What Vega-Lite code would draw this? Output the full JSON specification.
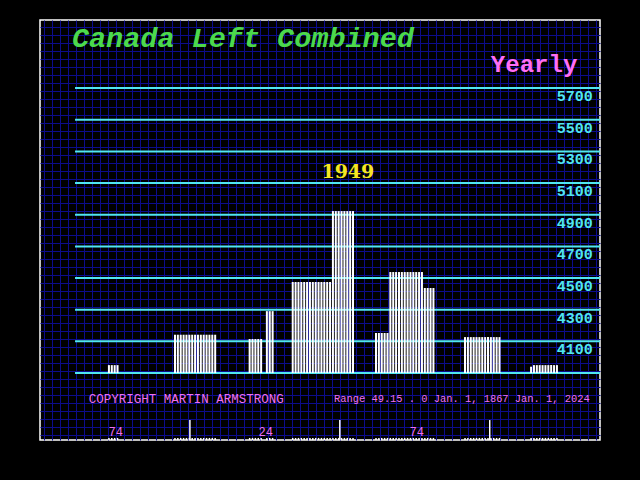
{
  "$schema": "https://vega.github.io/schema/vega-lite/v6.json",
  "width": 560,
  "height": 420,
  "autosize": "none",
  "padding": {"left": 40, "top": 20, "right": 40, "bottom": 40},
  "background": "#000000",
  "config": {"view": {"stroke": "#ffffff", "strokeWidth": 1.5, "fill": "#000000"}, "scale": {"continuousPadding": 0}},
  "datasets": {
    "bars": [
      {"year": 1867, "value": 3950}, {"year": 1868, "value": 3950}, {"year": 1869, "value": 3950}, {"year": 1870, "value": 3950},
      {"year": 1890, "value": 4142}, {"year": 1891, "value": 4142}, {"year": 1892, "value": 4142}, {"year": 1893, "value": 4142}, {"year": 1894, "value": 4142},
      {"year": 1895, "value": 4142}, {"year": 1896, "value": 4142}, {"year": 1897, "value": 4142}, {"year": 1898, "value": 4142}, {"year": 1899, "value": 4142},
      {"year": 1900, "value": 4142}, {"year": 1901, "value": 4142}, {"year": 1902, "value": 4142}, {"year": 1903, "value": 4142}, {"year": 1904, "value": 4142},
      {"year": 1916, "value": 4115}, {"year": 1917, "value": 4115}, {"year": 1918, "value": 4115}, {"year": 1919, "value": 4115}, {"year": 1920, "value": 4115},
      {"year": 1922, "value": 4291}, {"year": 1923, "value": 4291}, {"year": 1924, "value": 4291},
      {"year": 1931, "value": 4475}, {"year": 1932, "value": 4475}, {"year": 1933, "value": 4475}, {"year": 1934, "value": 4475}, {"year": 1935, "value": 4475},
      {"year": 1936, "value": 4475}, {"year": 1937, "value": 4475}, {"year": 1938, "value": 4475}, {"year": 1939, "value": 4475}, {"year": 1940, "value": 4475},
      {"year": 1941, "value": 4475}, {"year": 1942, "value": 4475}, {"year": 1943, "value": 4475}, {"year": 1944, "value": 4475},
      {"year": 1945, "value": 4923}, {"year": 1946, "value": 4923}, {"year": 1947, "value": 4923}, {"year": 1948, "value": 4923},
      {"year": 1949, "value": 4923}, {"year": 1950, "value": 4923}, {"year": 1951, "value": 4923}, {"year": 1952, "value": 4923},
      {"year": 1960, "value": 4153}, {"year": 1961, "value": 4153}, {"year": 1962, "value": 4153}, {"year": 1963, "value": 4153}, {"year": 1964, "value": 4153},
      {"year": 1965, "value": 4538}, {"year": 1966, "value": 4538}, {"year": 1967, "value": 4538}, {"year": 1968, "value": 4538}, {"year": 1969, "value": 4538}, {"year": 1970, "value": 4538},
      {"year": 1971, "value": 4538}, {"year": 1972, "value": 4538}, {"year": 1973, "value": 4538}, {"year": 1974, "value": 4538}, {"year": 1975, "value": 4538}, {"year": 1976, "value": 4538},
      {"year": 1977, "value": 4437}, {"year": 1978, "value": 4437}, {"year": 1979, "value": 4437}, {"year": 1980, "value": 4437},
      {"year": 1991, "value": 4127}, {"year": 1992, "value": 4127}, {"year": 1993, "value": 4127}, {"year": 1994, "value": 4127}, {"year": 1995, "value": 4127},
      {"year": 1996, "value": 4127}, {"year": 1997, "value": 4127}, {"year": 1998, "value": 4127}, {"year": 1999, "value": 4127}, {"year": 2000, "value": 4127},
      {"year": 2001, "value": 4127}, {"year": 2002, "value": 4127}, {"year": 2003, "value": 4127},
      {"year": 2014, "value": 3940}, {"year": 2015, "value": 3950}, {"year": 2016, "value": 3950}, {"year": 2017, "value": 3950}, {"year": 2018, "value": 3950},
      {"year": 2019, "value": 3950}, {"year": 2020, "value": 3950}, {"year": 2021, "value": 3950}, {"year": 2022, "value": 3950}, {"year": 2023, "value": 3950}
    ],
    "levels": [
      {"value": 3900}, {"value": 4100}, {"value": 4300}, {"value": 4500}, {"value": 4700},
      {"value": 4900}, {"value": 5100}, {"value": 5300}, {"value": 5500}, {"value": 5700}
    ],
    "cycles": [{"year": 1895.2}, {"year": 1947.4}, {"year": 1999.6}],
    "cycleLabels": [
      {"year": 1869.4, "label": "74"},
      {"year": 1921.6, "label": "24"},
      {"year": 1974.2, "label": "74"}
    ]
  },
  "resolve": {"scale": {"x": "independent", "y": "independent"}},
  "layer": [
    {
      "data": {"values": [{}]},
      "mark": {"type": "point", "opacity": 0},
      "encoding": {
        "x": {
          "datum": 0, "type": "quantitative",
          "scale": {"domain": [-0.5, 69.5], "nice": false, "zero": false, "padding": 0},
          "axis": {"grid": true, "gridColor": "#0c0c8c", "gridWidth": 1, "gridOpacity": 1, "labels": false, "ticks": false, "domain": false, "title": null, "tickCount": 70}
        },
        "y": {
          "datum": 1, "type": "quantitative",
          "scale": {"domain": [0.375, 52.875], "nice": false, "zero": false, "padding": 0},
          "axis": {"grid": true, "gridColor": "#0c0c8c", "gridWidth": 1, "gridOpacity": 1, "labels": false, "ticks": false, "domain": false, "title": null, "tickCount": 53}
        }
      }
    },
    {
      "layer": [
        {
          "data": {"name": "levels"},
          "mark": {"type": "rule", "color": "#50e6f0", "strokeWidth": 2},
          "encoding": {
            "x": {"datum": 1855.2, "type": "quantitative", "scale": {"domain": [1843, 2038], "nice": false, "zero": false, "padding": 0}, "axis": null},
            "x2": {"datum": 2038},
            "y": {"field": "value", "type": "quantitative", "scale": {"domain": [3477, 6130], "nice": false, "zero": false, "padding": 0}, "axis": null}
          }
        },
        {
          "data": {"name": "bars"},
          "mark": {"type": "bar", "color": "#ffffff", "width": 2},
          "encoding": {
            "x": {"field": "year", "type": "quantitative", "scale": {"domain": [1843, 2038], "nice": false, "zero": false, "padding": 0}, "axis": null},
            "y": {"field": "value", "type": "quantitative", "scale": {"domain": [3477, 6130], "nice": false, "zero": false, "padding": 0}, "axis": null},
            "y2": {"datum": 3900}
          }
        },
        {
          "data": {"name": "bars"},
          "mark": {"type": "bar", "color": "#ffffff", "width": 1.5},
          "encoding": {
            "x": {"field": "year", "type": "quantitative", "scale": {"domain": [1843, 2038], "nice": false, "zero": false, "padding": 0}, "axis": null},
            "y": {"datum": 3477, "type": "quantitative", "scale": {"domain": [3477, 6130], "nice": false, "zero": false, "padding": 0}, "axis": null},
            "y2": {"datum": 3490}
          }
        },
        {
          "data": {"name": "levels"},
          "transform": [{"filter": "datum.value > 3900"}],
          "mark": {"type": "text", "color": "#50e6f0", "font": "Liberation Mono", "fontSize": 15, "fontWeight": "bold", "align": "right", "baseline": "top", "dy": 1},
          "encoding": {
            "x": {"datum": 2035.5, "type": "quantitative", "scale": {"domain": [1843, 2038], "nice": false, "zero": false, "padding": 0}, "axis": null},
            "y": {"field": "value", "type": "quantitative", "scale": {"domain": [3477, 6130], "nice": false, "zero": false, "padding": 0}, "axis": null},
            "text": {"field": "value", "type": "quantitative", "format": "d"}
          }
        },
        {
          "data": {"name": "cycles"},
          "mark": {"type": "rule", "color": "#ffffff", "strokeWidth": 1.5},
          "encoding": {
            "x": {"field": "year", "type": "quantitative", "scale": {"domain": [1843, 2038], "nice": false, "zero": false, "padding": 0}, "axis": null},
            "y": {"datum": 3477, "type": "quantitative", "scale": {"domain": [3477, 6130], "nice": false, "zero": false, "padding": 0}, "axis": null},
            "y2": {"datum": 3603}
          }
        },
        {
          "data": {"name": "cycleLabels"},
          "mark": {"type": "text", "color": "#f070f0", "font": "Liberation Mono", "fontSize": 12, "align": "center", "baseline": "middle"},
          "encoding": {
            "x": {"field": "year", "type": "quantitative", "scale": {"domain": [1843, 2038], "nice": false, "zero": false, "padding": 0}, "axis": null},
            "y": {"datum": 3527, "type": "quantitative", "scale": {"domain": [3477, 6130], "nice": false, "zero": false, "padding": 0}, "axis": null},
            "text": {"field": "label"}
          }
        },
        {
          "data": {"values": [{}]},
          "mark": {"type": "text", "text": "Canada Left Combined", "color": "#4cd94c", "font": "Liberation Mono", "fontSize": 28.5, "fontWeight": "bold", "fontStyle": "italic", "align": "left", "baseline": "alphabetic"},
          "encoding": {
            "x": {"datum": 1854.1, "type": "quantitative"},
            "y": {"datum": 5959, "type": "quantitative"}
          }
        },
        {
          "data": {"values": [{}]},
          "mark": {"type": "text", "text": "Yearly", "color": "#ff6ef5", "font": "Liberation Mono", "fontSize": 24, "fontWeight": "bold", "align": "left", "baseline": "alphabetic"},
          "encoding": {
            "x": {"datum": 2000.0, "type": "quantitative"},
            "y": {"datum": 5801, "type": "quantitative"}
          }
        },
        {
          "data": {"values": [{}]},
          "mark": {"type": "text", "text": "1949", "color": "#f5e623", "font": "DejaVu Serif", "fontSize": 19, "fontWeight": "bold", "align": "center", "baseline": "alphabetic"},
          "encoding": {
            "x": {"datum": 1950.2, "type": "quantitative"},
            "y": {"datum": 5132, "type": "quantitative"}
          }
        },
        {
          "data": {"values": [{}]},
          "mark": {"type": "text", "text": "COPYRIGHT MARTIN ARMSTRONG", "color": "#f070f0", "font": "Liberation Mono", "fontSize": 12.5, "align": "left", "baseline": "middle"},
          "encoding": {
            "x": {"datum": 1860.0, "type": "quantitative"},
            "y": {"datum": 3736, "type": "quantitative"}
          }
        },
        {
          "data": {"values": [{}]},
          "mark": {"type": "text", "text": "Range  49.15 . 0 Jan.  1,  1867 Jan.  1,  2024", "color": "#f070f0", "font": "Liberation Mono", "fontSize": 10.4, "align": "right", "baseline": "middle"},
          "encoding": {
            "x": {"datum": 2034.4, "type": "quantitative"},
            "y": {"datum": 3736, "type": "quantitative"}
          }
        }
      ]
    }
  ]
}
